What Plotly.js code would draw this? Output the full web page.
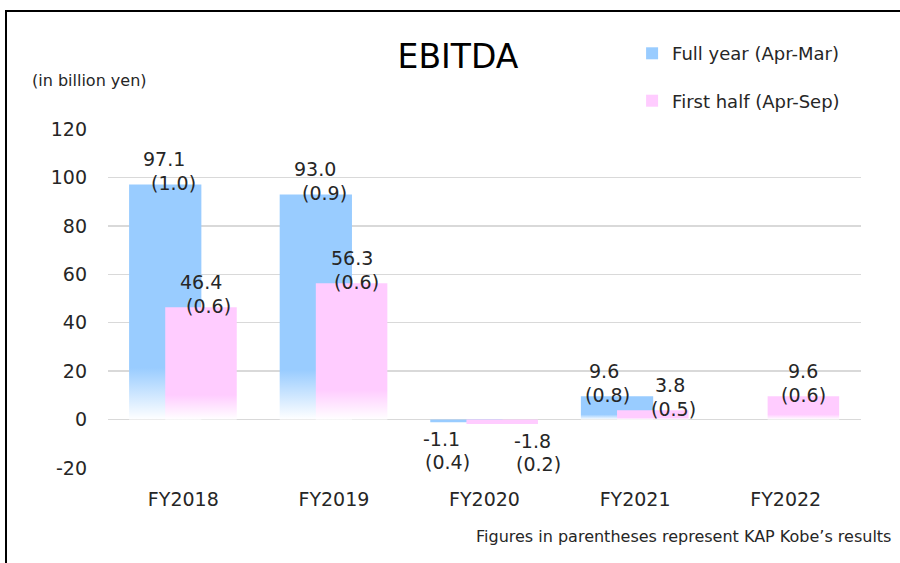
<!DOCTYPE html>
<html>
<head>
<meta charset="utf-8">
<script src="https://cdn.plot.ly/plotly-3.0.1.min.js"></script>
<style>
  html, body { margin: 0; padding: 0; background: #fff; }
  #wrap { position: relative; width: 900px; height: 563px; overflow: hidden; }
  #chart { width: 900px; height: 563px; }
  #frame { position: absolute; left: 5px; top: 10px; width: 960px; height: 600px;
           border-left: 2px solid #000; border-top: 2px solid #000; pointer-events: none; }
</style>
</head>
<body>
<div id="wrap">
  <div id="chart"></div>
  <div id="frame"></div>
</div>
<script>
// ---- data ----
var categories = ["FY2018", "FY2019", "FY2020", "FY2021", "FY2022"];
var fullYear   = [97.1, 93.0, -1.1, 9.6, null];
var firstHalf  = [46.4, 56.3, -1.8, 3.8, 9.6];
var fullYearKobe  = ["(1.0)", "(0.9)", "(0.4)", "(0.8)", null];
var firstHalfKobe = ["(0.6)", "(0.6)", "(0.2)", "(0.5)", "(0.6)"];
var seriesNames = ["Full year (Apr-Mar)", "First half (Apr-Sep)"];
var yTickVals = [-20, 0, 20, 40, 60, 80, 100, 120];
var yTickText = ["-20", "0", "20", "40", "60", "80", "100", "120"];

// ---- style ----
var FONT = "DejaVu Sans, Arial, sans-serif";
var TXT = "#262626";
var blue = "#99CCFF", pink = "#FFCCFF";
var fullOffset = -0.36, fullWidth = 0.48;
var halfOffset = -0.12, halfWidth = 0.475;
// label pixel nudges (value line dx, paren line dx)
var fullValDx = [-1, -1, -25, -13, 0];
var fullParDx = [8, 9, -19, -10, 0];
var halfValDx = [0, 0, 30, 17, 0];
var halfParDx = [7, 5, 36, 21, 0];

var traces = [
  {type: "bar", name: seriesNames[0], x: categories, y: fullYear,
   offset: fullOffset, width: fullWidth, marker: {color: blue, line: {width: 0}},
   legendgroup: "a", hoverinfo: "skip"},
  {type: "bar", name: seriesNames[1], x: categories, y: firstHalf,
   offset: halfOffset, width: halfWidth, marker: {color: pink, line: {width: 0}},
   legendgroup: "b", hoverinfo: "skip"}
];

var annotations = [];
function addLabels(vals, kobe, off, w, valDx, parDx) {
  vals.forEach(function (v, i) {
    if (v === null) return;
    var cx = i + off + w / 2;
    var pos = v >= 0;
    annotations.push({x: cx, y: v, xref: "x", yref: "y", text: v.toFixed(1),
      showarrow: false, xanchor: "center", yanchor: "middle",
      xshift: valDx[i], yshift: pos ? 25 : -17,
      font: {family: FONT, size: 19, color: TXT}});
    if (kobe[i]) annotations.push({x: cx, y: v, xref: "x", yref: "y", text: kobe[i],
      showarrow: false, xanchor: "center", yanchor: "middle",
      xshift: parDx[i], yshift: pos ? 1 : -40,
      font: {family: FONT, size: 19, color: TXT}});
  });
}
addLabels(fullYear, fullYearKobe, fullOffset, fullWidth, fullValDx, fullParDx);
addLabels(firstHalf, firstHalfKobe, halfOffset, halfWidth, halfValDx, halfParDx);

annotations.push({xref: "paper", yref: "paper", x: -0.103, y: 1.1416, xanchor: "left", yanchor: "middle",
  text: "(in billion yen)", showarrow: false, font: {family: FONT, size: 16, color: TXT}});
annotations.push({xref: "paper", yref: "paper", x: 1.043, y: -0.2035, xanchor: "right", yanchor: "middle",
  text: "Figures in parentheses represent KAP Kobe\u2019s results", showarrow: false,
  font: {family: FONT, size: 16, color: TXT}});

var layout = {
  width: 900, height: 563,
  margin: {l: 108, r: 39, t: 129, b: 95},
  paper_bgcolor: "#fff", plot_bgcolor: "#fff",
  barmode: "overlay",
  title: {text: "EBITDA", font: {family: FONT, size: 33, color: "#000"},
          xref: "paper", x: 0.4648, xanchor: "center", yref: "container", y: 0.899, yanchor: "middle"},
  showlegend: true,
  legend: {x: 0.696, xanchor: "left", y: 1.277, yanchor: "top", orientation: "v",
           traceorder: "grouped", tracegroupgap: 21,
           font: {family: FONT, size: 18, color: TXT}, bgcolor: "rgba(0,0,0,0)"},
  xaxis: {type: "category", showgrid: false, zeroline: false, showline: false, ticks: "",
          tickfont: {family: FONT, size: 19, color: TXT}, ticklabelstandoff: 18,
          range: [-0.5, 4.5], fixedrange: true},
  yaxis: {range: [-20, 120], tickmode: "array", tickvals: yTickVals, ticktext: yTickText,
          showgrid: true, gridcolor: "#d9d9d9", gridwidth: 1.3,
          zeroline: true, zerolinecolor: "#d9d9d9", zerolinewidth: 1.3, showline: false, ticks: "",
          tickfont: {family: FONT, size: 19, color: TXT}, ticklabelstandoff: 20, fixedrange: true},
  annotations: annotations,
  hovermode: false
};

function applyGradients(gd) {
  var ns = "http://www.w3.org/2000/svg";
  var svg = gd.querySelector("svg.main-svg");
  var defs = svg.querySelector("defs");
  if (!defs) { defs = document.createElementNS(ns, "defs"); svg.insertBefore(defs, svg.firstChild); }
  [blue, pink].forEach(function (c, k) {
    var g = document.createElementNS(ns, "linearGradient");
    g.setAttribute("id", "barGrad" + k);
    g.setAttribute("x1", "0"); g.setAttribute("y1", "0");
    g.setAttribute("x2", "0"); g.setAttribute("y2", "1");
    [[0, c], [0.78, c], [1, "#ffffff"]].forEach(function (s) {
      var st = document.createElementNS(ns, "stop");
      st.setAttribute("offset", s[0]); st.setAttribute("stop-color", s[1]);
      g.appendChild(st);
    });
    defs.appendChild(g);
  });
  var trs = gd.querySelectorAll(".barlayer .trace");
  trs.forEach(function (tr, ti) {
    tr.querySelectorAll(".point").forEach(function (pt) {
      var d = pt.__data__;
      var path = pt.querySelector("path");
      if (d && path && d.s > 0) path.style.fill = "url(#barGrad" + ti + ")";
    });
  });
}

Plotly.newPlot("chart", traces, layout, {staticPlot: true, displayModeBar: false}).then(applyGradients);
</script>
</body>
</html>
